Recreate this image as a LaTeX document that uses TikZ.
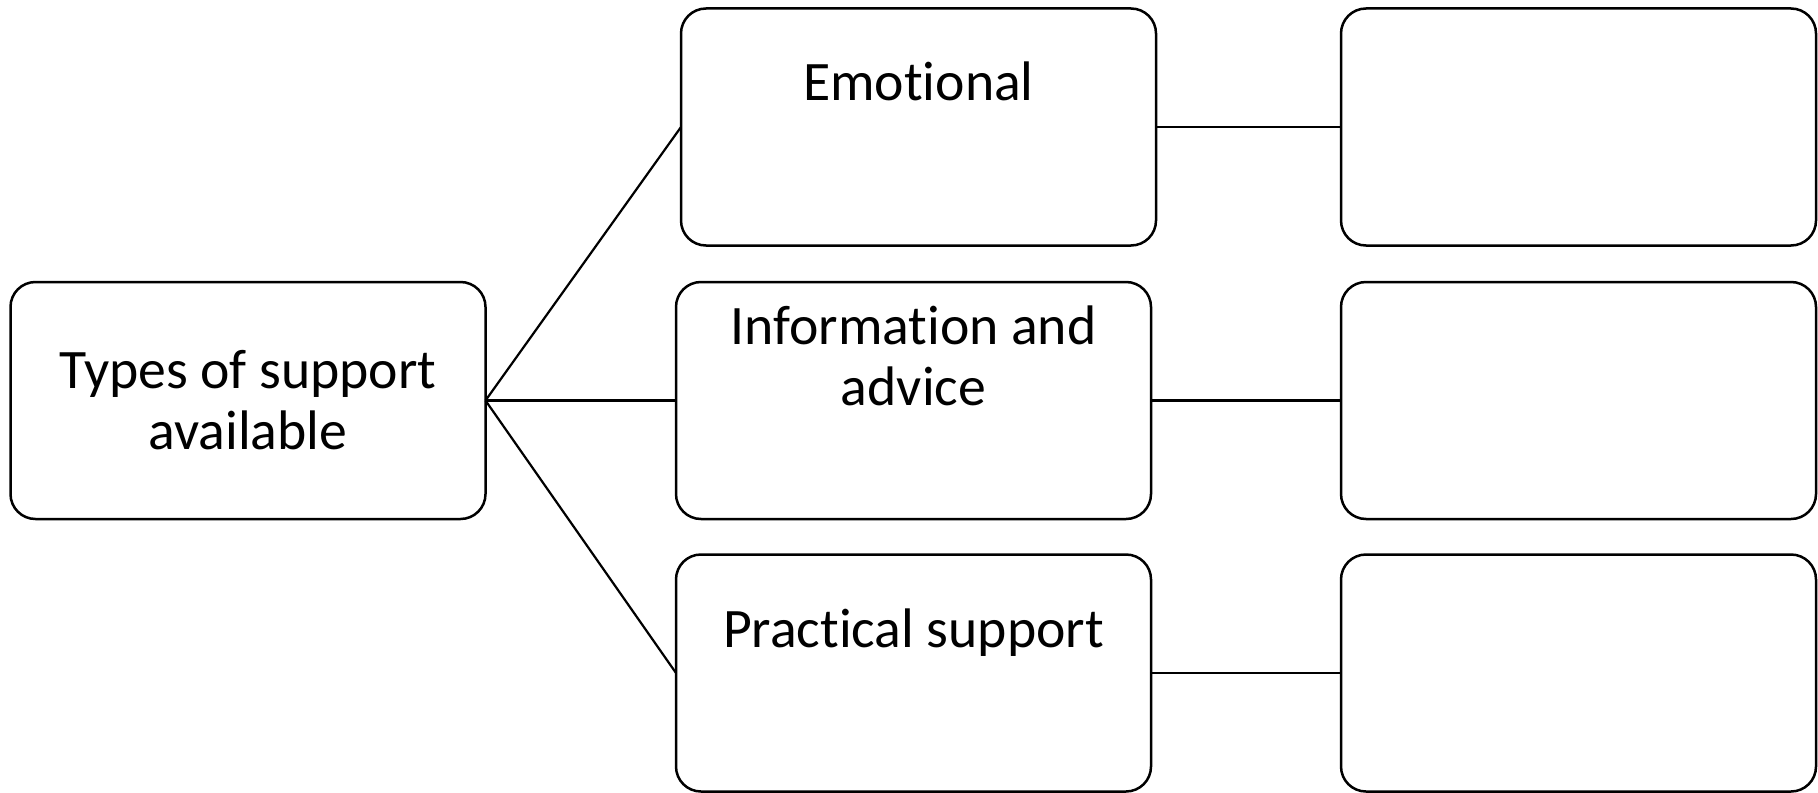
\documentclass[tikz,border=0pt]{standalone}
\usepackage{fontspec}
\setmainfont{Carlito}[Ligatures=CommonOff]
\usetikzlibrary{positioning}

\tikzset{
  supportbox/.style={draw=black, line width=1.25pt, rounded corners=12.5pt,
    minimum width=237.5pt, minimum height=118.5pt, inner sep=0pt, outer sep=0pt},
  boxtext/.style={font=\fontsize{27.85}{30.5}\selectfont, align=center, inner sep=0pt},
  link/.style={draw=black, line width=1.1pt}
}

\begin{document}
\begin{tikzpicture}[x=0.5pt, y=-0.5pt]
  \useasboundingbox (0,0) rectangle (1818,792);
  % Left box
  \node [supportbox, boxtext] (types) at (248,400.5) {Types of support\\available};
  % Middle column
  \node [supportbox] (emotional) at (918.5,127) {};
  \node [supportbox] (info) at (913.5,400.5) {};
  \node [supportbox] (practical) at (913.5,673) {};
  \node [boxtext, anchor=base] (emotionaltext) at (918.5,100) {Emotional};
  \node [boxtext, anchor=base] (infotext) at (913.5,405) {Information and\\advice};
  \node [boxtext, anchor=base] (practicaltext) at (913.5,647) {Practical support};
  % Right column
  \node [supportbox] (emotionalnote) at (1578.5,127) {};
  \node [supportbox] (infonote) at (1578.5,400.5) {};
  \node [supportbox] (practicalnote) at (1578.5,673) {};
  % Links
  \draw [link] (types.east) -- (emotional.west);
  \draw [link] (types.east) -- (info.west);
  \draw [link] (types.east) -- (practical.west);
  \draw [link] (emotional.east) -- (emotionalnote.west);
  \draw [link] (info.east) -- (infonote.west);
  \draw [link] (practical.east) -- (practicalnote.west);
\end{tikzpicture}
\end{document}
